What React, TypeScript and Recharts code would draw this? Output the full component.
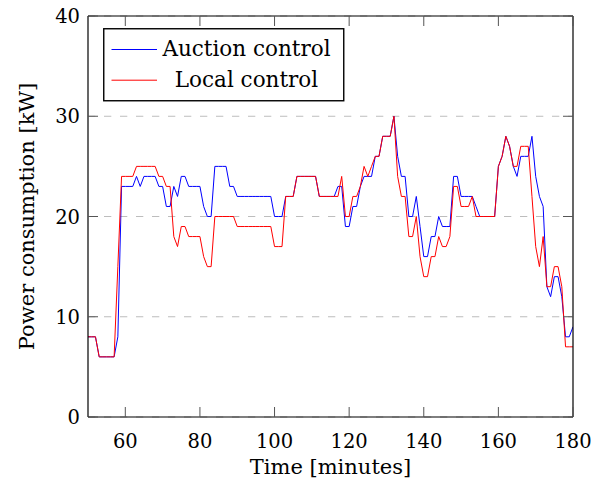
import React from 'react';
import { LineChart, Line, XAxis, YAxis, CartesianGrid, Legend } from 'recharts';

const minutes = [
  50, 51, 52, 53, 54, 55, 56, 57, 58, 59, 60, 61, 62, 63, 64, 65, 66, 67, 68, 69,
  70, 71, 72, 73, 74, 75, 76, 77, 78, 79, 80, 81, 82, 83, 84, 85, 86, 87, 88, 89,
  90, 91, 92, 93, 94, 95, 96, 97, 98, 99, 100, 101, 102, 103, 104, 105, 106, 107, 108, 109,
  110, 111, 112, 113, 114, 115, 116, 117, 118, 119, 120, 121, 122, 123, 124, 125, 126, 127, 128, 129,
  130, 131, 132, 133, 134, 135, 136, 137, 138, 139, 140, 141, 142, 143, 144, 145, 146, 147, 148, 149,
  150, 151, 152, 153, 154, 155, 156, 157, 158, 159, 160, 161, 162, 163, 164, 165, 166, 167, 168, 169,
  170, 171, 172, 173, 174, 175, 176, 177, 178, 179, 180,
];

const auctionControl = [
  8, 8, 8, 6, 6, 6, 6, 6, 8, 23, 23, 23, 23, 24, 23, 24, 24, 24, 24, 23,
  23, 21, 21, 23, 22, 24, 24, 23, 23, 23, 23, 21, 20, 20, 25, 25, 25, 25, 23, 23,
  22, 22, 22, 22, 22, 22, 22, 22, 22, 22, 20, 20, 20, 22, 22, 22, 24, 24, 24, 24,
  24, 24, 22, 22, 22, 22, 22, 23, 23, 19, 19, 21, 21, 23, 24, 24, 24, 26, 26, 28,
  28, 28, 30, 26, 24, 24, 20, 20, 22, 19, 16, 16, 18, 18, 20, 19, 19, 19, 24, 24,
  22, 22, 22, 22, 21, 20, 20, 20, 20, 20, 25, 26, 28, 27, 25, 24, 26, 26, 26, 28,
  24, 22, 21, 13, 12, 14, 14, 12, 8, 8, 9,
];

const localControl = [
  8, 8, 8, 6, 6, 6, 6, 6, 15, 24, 24, 24, 24, 25, 25, 25, 25, 25, 25, 24,
  24, 23, 23, 18, 17, 19, 19, 18, 18, 18, 18, 16, 15, 15, 20, 20, 20, 20, 20, 20,
  19, 19, 19, 19, 19, 19, 19, 19, 19, 19, 17, 17, 17, 22, 22, 22, 24, 24, 24, 24,
  24, 24, 22, 22, 22, 22, 22, 22, 24, 20, 20, 22, 22, 23, 25, 24, 25, 26, 26, 28,
  28, 28, 30, 24, 22, 22, 18, 18, 20, 16, 14, 14, 16, 16, 18, 17, 17, 18, 23, 23,
  21, 21, 21, 22, 20, 20, 20, 20, 20, 20, 25, 26, 28, 27, 25, 25, 27, 27, 27, 22,
  17, 15, 18, 13, 13, 15, 15, 13, 7, 7, 7,
];

const seriesNames = ['Auction control', 'Local control'];
const seriesColors = ['#0000ff', '#ff0000'];
const xTicks = [60, 80, 100, 120, 140, 160, 180];
const yTicks = [0, 10, 20, 30, 40];
const xDomain = [50, 180];
const yDomain = [0, 40];
const xLabel = 'Time [minutes]';
const yLabel = 'Power consumption [kW]';

const data = minutes.map((t, i) => ({
  t,
  auction: auctionControl[i],
  local: localControl[i],
}));

const FONT = 'DejaVu Serif';
const TICK_LEN = 10;
const TICK_COLOR = '#555';
const TICK_FONT = 19.5;
const LABEL_FONT = 21;
const LEGEND_FONT = 21.5;

const BottomTick = (props: any) => {
  const { x, y, payload } = props;
  return (
    <g>
      <line x1={x} y1={y} x2={x} y2={y - TICK_LEN} stroke={TICK_COLOR} strokeWidth={1} />
      <text x={x} y={y + 31} textAnchor="middle" style={{ fontFamily: FONT }} fontSize={TICK_FONT} fill="#000">
        {payload.value}
      </text>
    </g>
  );
};

const TopTick = (props: any) => {
  const { x, y } = props;
  return <line x1={x} y1={y} x2={x} y2={y + TICK_LEN} stroke={TICK_COLOR} strokeWidth={1} />;
};

const LeftTick = (props: any) => {
  const { x, y, payload } = props;
  return (
    <g>
      <line x1={x} y1={y} x2={x + TICK_LEN} y2={y} stroke={TICK_COLOR} strokeWidth={1} />
      <text x={x - 8} y={y + 7} textAnchor="end" style={{ fontFamily: FONT }} fontSize={TICK_FONT} fill="#000">
        {payload.value}
      </text>
    </g>
  );
};

const RightTick = (props: any) => {
  const { x, y } = props;
  return <line x1={x} y1={y} x2={x - TICK_LEN} y2={y} stroke={TICK_COLOR} strokeWidth={1} />;
};

const XLabel = (props: any) => {
  const vb = props.viewBox || {};
  return (
    <text
      x={vb.x + vb.width / 2}
      y={vb.y + 57}
      textAnchor="middle"
      style={{ fontFamily: FONT }}
      fontSize={LABEL_FONT}
      fill="#000"
    >
      {xLabel}
    </text>
  );
};

const YLabel = (props: any) => {
  const vb = props.viewBox || {};
  const cx = vb.x + 26;
  const cy = vb.y + vb.height / 2;
  return (
    <text
      x={cx}
      y={cy}
      transform={`rotate(-90, ${cx}, ${cy})`}
      textAnchor="middle"
      style={{ fontFamily: FONT }}
      fontSize={LABEL_FONT}
      fill="#000"
    >
      {yLabel}
    </text>
  );
};

const LegendBox = () => (
  <svg width={242} height={74} style={{ display: 'block' }}>
    <rect x={0.75} y={0.75} width={240} height={72} fill="#fff" stroke="#000" strokeWidth={1.4} />
    {seriesNames.map((name, i) => (
      <g key={name}>
        <line x1={8.5} x2={54} y1={21.5 + i * 30.7} y2={21.5 + i * 30.7} stroke={seriesColors[i]} strokeWidth={1} />
        <text
          x={143.5}
          y={28 + i * 30.7}
          textAnchor="middle"
          style={{ fontFamily: FONT }}
          fontSize={LEGEND_FONT}
          fill="#000"
        >
          {name}
        </text>
      </g>
    ))}
  </svg>
);

export default function App() {
  return (
    <div style={{ width: 590, marginTop: -8 }}>
      <LineChart
        width={590}
        height={481}
        data={data}
        margin={{ top: 15, right: 24, bottom: 0, left: 0 }}
      >
        <CartesianGrid
          horizontal={true}
          vertical={false}
          stroke="#bdbdbd"
          strokeDasharray="7.3 8.7"
          yAxisId="left"
          xAxisId="bottom"
        />
        <XAxis
          xAxisId="bottom"
          dataKey="t"
          type="number"
          domain={xDomain}
          ticks={xTicks}
          interval={0}
          allowDataOverflow
          height={64}
          tickSize={0}
          tickMargin={0}
          tickLine={false}
          axisLine={{ stroke: '#000', strokeWidth: 1.2 }}
          tick={BottomTick}
          label={<XLabel />}
        />
        <XAxis
          xAxisId="top"
          orientation="top"
          dataKey="t"
          type="number"
          domain={xDomain}
          ticks={xTicks}
          interval={0}
          allowDataOverflow
          height={1}
          tickSize={0}
          tickMargin={0}
          tickLine={false}
          axisLine={{ stroke: '#000', strokeWidth: 1.2 }}
          tick={TopTick}
        />
        <YAxis
          yAxisId="left"
          type="number"
          domain={yDomain}
          ticks={yTicks}
          interval={0}
          allowDataOverflow
          width={80}
          tickSize={0}
          tickMargin={0}
          tickLine={false}
          axisLine={{ stroke: '#000', strokeWidth: 1.2 }}
          tick={LeftTick}
          label={<YLabel />}
        />
        <YAxis
          yAxisId="right"
          orientation="right"
          type="number"
          domain={yDomain}
          ticks={yTicks}
          interval={0}
          allowDataOverflow
          width={1}
          tickSize={0}
          tickMargin={0}
          tickLine={false}
          axisLine={{ stroke: '#000', strokeWidth: 1.2 }}
          tick={RightTick}
        />
        <Line
          xAxisId="top"
          yAxisId="right"
          type="linear"
          dataKey="auction"
          stroke="none"
          strokeWidth={0}
          dot={false}
          activeDot={false}
          legendType="none"
          isAnimationActive={false}
        />
        <Line
          xAxisId="bottom"
          yAxisId="left"
          type="linear"
          dataKey="auction"
          name={seriesNames[0]}
          stroke={seriesColors[0]}
          strokeWidth={1}
          dot={false}
          isAnimationActive={false}
        />
        <Line
          xAxisId="bottom"
          yAxisId="left"
          type="linear"
          dataKey="local"
          name={seriesNames[1]}
          stroke={seriesColors[1]}
          strokeWidth={1}
          dot={false}
          isAnimationActive={false}
        />
        <Legend
          layout="vertical"
          align="center"
          verticalAlign="middle"
          wrapperStyle={{ position: 'absolute', left: 95, top: 28, width: 242, height: 74 }}
          content={() => <LegendBox />}
        />
      </LineChart>
    </div>
  );
}
